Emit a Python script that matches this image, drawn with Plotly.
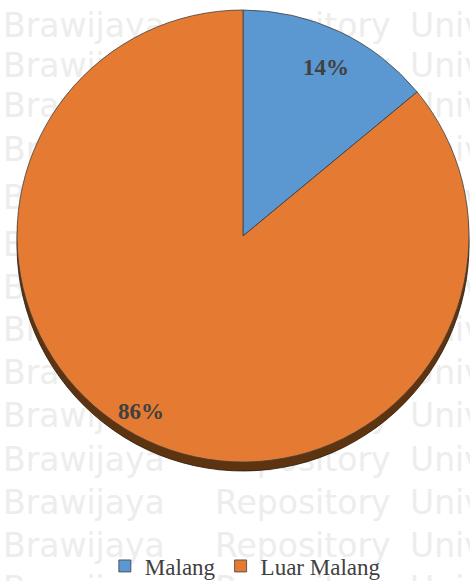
import math
import plotly.graph_objects as go

# ---- data ----
categories = ["Malang", "Luar Malang"]
values = [14, 86]
slice_colors = ["#5B97D0", "#E57B33"]
shadow_colors = ["#2E4F70", "#5E3410"]

# watermark decoration (text rows)
wm_words = ["Brawijaya", "Repository", "University"]
wm_word_x = [3, 215, 410]
wm_row_baselines = [33, 73, 113, 157, 205, 252, 295, 337, 380, 423, 467, 510, 553, 596]

# ---- layout constants (pixels) ----
W, H = 470, 581
cx, cy, R = 243, 236, 226
shadow_drop = 9
label_k = [0.83, 0.90]
label_angle_offset = [1, 5]

def dom(cx_, cy_, r_):
    return dict(x=[max(0, (cx_ - r_) / W), min(1, (cx_ + r_) / W)],
                y=[1 - (cy_ + r_) / H, 1 - (cy_ - r_) / H])

fig = go.Figure()

# watermark on hidden cartesian axes (drawn below pie layer)
wx, wy, wt = [], [], []
for b in wm_row_baselines:
    for word, x0 in zip(wm_words, wm_word_x):
        wx.append(x0)
        wy.append(b - 4)
        wt.append(word)
fig.add_trace(go.Scatter(
    x=wx, y=wy, text=wt, mode="text", textposition="middle right",
    textfont=dict(family="DejaVu Sans", size=33, color="#EDEDED"),
    hoverinfo="skip", showlegend=False, cliponaxis=True))

# 3D-like thickness (shadow pie)
fig.add_trace(go.Pie(
    labels=categories, values=values, sort=False, direction="clockwise", rotation=0,
    marker=dict(colors=shadow_colors, line=dict(color="#2A1605", width=0.8)),
    domain=dom(cx, cy + shadow_drop, R), textinfo="none", hoverinfo="skip",
    showlegend=False))

# main pie
fig.add_trace(go.Pie(
    labels=categories, values=values, sort=False, direction="clockwise", rotation=0,
    marker=dict(colors=slice_colors, line=dict(color="#3F3F3F", width=0.8)),
    domain=dom(cx, cy, R), textinfo="none", showlegend=True))

# percentage labels computed from the data
total = sum(values)
cum = 0
for i, v in enumerate(values):
    mid = (cum + v / 2) / total * 360 + label_angle_offset[i]
    cum += v
    th = math.radians(mid)
    lx = cx + label_k[i] * R * math.sin(th)
    ly = cy - label_k[i] * R * math.cos(th)
    fig.add_annotation(x=lx, y=ly, xref="x", yref="y",
                       text=f"<b>{round(v / total * 100)}%</b>", showarrow=False,
                       font=dict(family="Liberation Serif, Times New Roman", size=23,
                                 color="#404040"))

fig.update_xaxes(range=[0, W], visible=False, fixedrange=True)
fig.update_yaxes(range=[H, 0], visible=False, fixedrange=True)

fig.update_layout(
    width=W, height=H, margin=dict(l=0, r=0, t=0, b=0, autoexpand=False),
    paper_bgcolor="white", plot_bgcolor="rgba(0,0,0,0)",
    legend=dict(orientation="h", x=0.522, xanchor="center", y=1 - 566 / H,
                yanchor="middle", bgcolor="rgba(0,0,0,0)",
                font=dict(family="Liberation Serif, Times New Roman", size=23,
                          color="#404040"),
                itemwidth=30),
)

fig.write_html("out.html", config={"displayModeBar": False},
               post_script="document.body.style.margin='0';document.body.style.overflow='hidden';")
